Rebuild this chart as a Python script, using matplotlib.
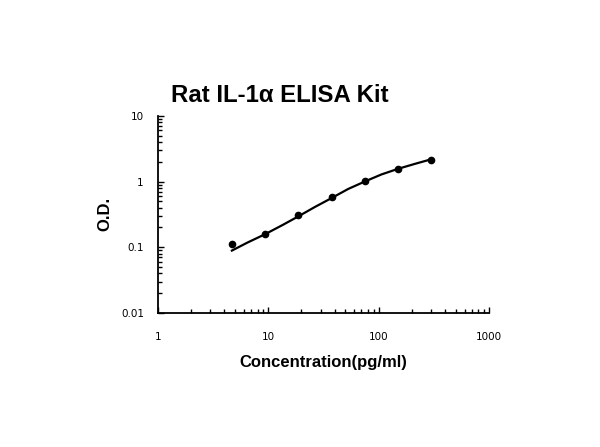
import matplotlib
matplotlib.use("Agg")
import matplotlib.pyplot as plt
from matplotlib.ticker import LogLocator, FixedLocator, FixedFormatter, NullFormatter

plt.rcParams["font.family"] = ["Liberation Sans", "DejaVu Sans"]

# Data
conc = [4.69, 9.38, 18.75, 37.5, 75, 150, 300]
od = [0.111, 0.159, 0.31, 0.59, 1.03, 1.57, 2.15]
# fitted curve
curve_x = [4.69, 6.5, 9.38, 13.5, 18.75, 26.5, 37.5, 53, 75, 106, 150, 212, 300]
curve_y = [0.089, 0.118, 0.158, 0.218, 0.295, 0.41, 0.56, 0.77, 1.0, 1.28, 1.56, 1.85, 2.18]

xticks = [1, 10, 100, 1000]
xticklabels = ["1", "10", "100", "1000"]
yticks = [0.01, 0.1, 1, 10]
yticklabels = ["0.01", "0.1", "1", "10"]

fig = plt.figure(figsize=(6, 4.47), dpi=100)
ax = fig.add_axes([0.263, 0.2998, 0.552, 0.4412])
ax.set_xscale("log")
ax.set_yscale("log")
ax.plot(curve_x, curve_y, color="black", lw=1.6)
ax.plot(conc, od, "o", color="black", ms=4.5)
ax.set_xlim(1, 1000)
ax.set_ylim(0.01, 10)

ax.spines["top"].set_visible(False)
ax.spines["right"].set_visible(False)
for s in ("left", "bottom"):
    ax.spines[s].set_linewidth(1.3)

ax.xaxis.set_major_locator(FixedLocator(xticks))
ax.xaxis.set_major_formatter(FixedFormatter(xticklabels))
ax.yaxis.set_major_locator(FixedLocator(yticks))
ax.yaxis.set_major_formatter(FixedFormatter(yticklabels))
ax.xaxis.set_minor_locator(LogLocator(base=10, subs=range(2, 10)))
ax.yaxis.set_minor_locator(LogLocator(base=10, subs=range(2, 10)))
ax.xaxis.set_minor_formatter(NullFormatter())
ax.yaxis.set_minor_formatter(NullFormatter())
ax.tick_params(which="major", direction="in", length=4, width=1, labelsize=7.5, pad=14)
ax.tick_params(which="minor", direction="in", length=3, width=1)
ax.tick_params(axis="y", which="major", pad=10)
for lbl in ax.get_xticklabels() + ax.get_yticklabels():
    lbl.set_family("DejaVu Sans")

ax.set_xlabel("Concentration(pg/ml)", fontsize=12, fontweight="bold")
ax.xaxis.set_label_coords(0.5, -0.215)
ax.set_ylabel("O.D.", fontsize=12, fontweight="bold")
ax.yaxis.set_label_coords(-0.136, 0.5)
fig.text(0.467, 0.787, "Rat IL-1α ELISA Kit", fontsize=17.3, fontweight="bold", ha="center", va="center")

fig.savefig("out.png", dpi=100)
